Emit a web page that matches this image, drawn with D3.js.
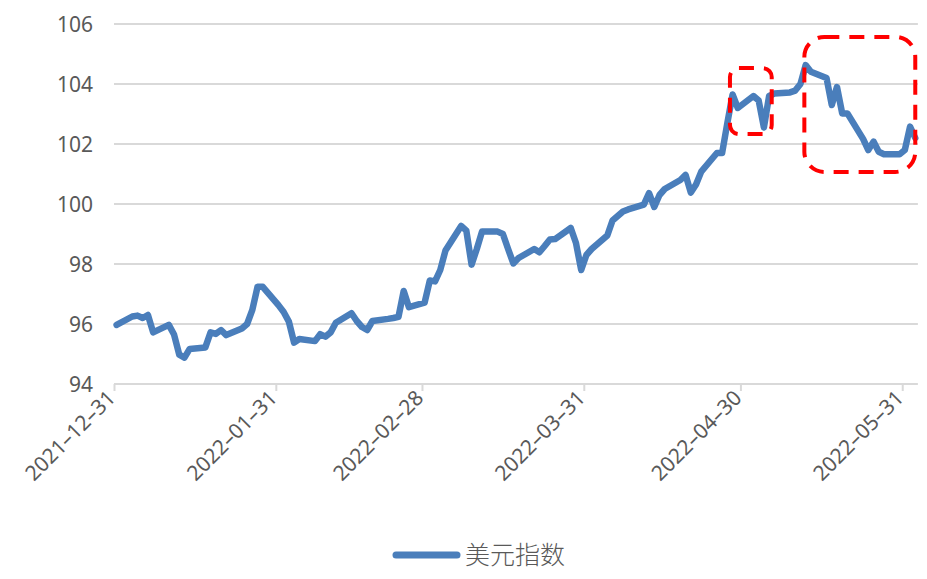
<!DOCTYPE html>
<html>
<head>
<meta charset="utf-8">
<script src="https://cdn.jsdelivr.net/npm/d3@7"></script>
<style>
  body { margin: 0; background: #fff; }
  text { font-family: "Noto Sans", "Noto Sans CJK SC", sans-serif; fill: #595959; }
</style>
</head>
<body>
<div class="svg-container"></div>
<script>
// 美元指数, daily closes
var dates = [
  "2021-12-31",
  "2022-01-03","2022-01-04","2022-01-05","2022-01-06","2022-01-07",
  "2022-01-10","2022-01-11","2022-01-12","2022-01-13","2022-01-14",
  "2022-01-17","2022-01-18","2022-01-19","2022-01-20","2022-01-21",
  "2022-01-24","2022-01-25","2022-01-26","2022-01-27","2022-01-28",
  "2022-01-31","2022-02-01","2022-02-02","2022-02-03","2022-02-04",
  "2022-02-07","2022-02-08","2022-02-09","2022-02-10","2022-02-11",
  "2022-02-14","2022-02-15","2022-02-16","2022-02-17","2022-02-18",
  "2022-02-21","2022-02-22","2022-02-23","2022-02-24","2022-02-25",
  "2022-02-28","2022-03-01","2022-03-02","2022-03-03","2022-03-04",
  "2022-03-07","2022-03-08","2022-03-09","2022-03-10","2022-03-11",
  "2022-03-14","2022-03-15","2022-03-16","2022-03-17","2022-03-18",
  "2022-03-21","2022-03-22","2022-03-23","2022-03-24","2022-03-25",
  "2022-03-28","2022-03-29","2022-03-30","2022-03-31","2022-04-01",
  "2022-04-04","2022-04-05","2022-04-06","2022-04-07","2022-04-08",
  "2022-04-11","2022-04-12","2022-04-13","2022-04-14","2022-04-15",
  "2022-04-18","2022-04-19","2022-04-20","2022-04-21","2022-04-22",
  "2022-04-25","2022-04-26","2022-04-27","2022-04-28","2022-04-29",
  "2022-05-02","2022-05-03","2022-05-04","2022-05-05","2022-05-06",
  "2022-05-09","2022-05-10","2022-05-11","2022-05-12","2022-05-13",
  "2022-05-16","2022-05-17","2022-05-18","2022-05-19","2022-05-20",
  "2022-05-23","2022-05-24","2022-05-25","2022-05-26","2022-05-27",
  "2022-05-30","2022-05-31","2022-06-01","2022-06-02"
];
var values = [
  95.97,
  96.25, 96.28, 96.2, 96.3, 95.72,
  95.97, 95.65, 94.98, 94.88, 95.17,
  95.22, 95.72, 95.67, 95.8, 95.63,
  95.85, 96.0, 96.47, 97.24, 97.24,
  96.63, 96.4, 96.08, 95.38, 95.5,
  95.43, 95.66, 95.58, 95.72, 96.04,
  96.36, 96.1, 95.9, 95.8, 96.1,
  96.17, 96.2, 96.24, 97.1, 96.56,
  96.71, 97.45, 97.42, 97.8, 98.45,
  99.27, 99.11, 97.98, 98.5, 99.08,
  99.08, 99.0, 98.5, 98.02, 98.2,
  98.5, 98.39, 98.6, 98.82, 98.83,
  99.2, 98.7, 97.8, 98.3, 98.5,
  98.95, 99.45, 99.6, 99.75, 99.82,
  99.98, 100.36, 99.9, 100.3, 100.5,
  100.8, 100.97, 100.38, 100.65, 101.08,
  101.7, 101.7, 102.7, 103.65, 103.2,
  103.6, 103.45, 102.55, 103.6, 103.68,
  103.72, 103.78, 104.0, 104.63, 104.41,
  104.2, 103.3, 103.9, 103.02, 103.02,
  102.17, 101.8, 102.08, 101.74, 101.66,
  101.66, 101.8, 102.58, 102.2
];
var yTicks = [94, 96, 98, 100, 102, 104, 106];
var xTicks = ["2021-12-31","2022-01-31","2022-02-28","2022-03-31","2022-04-30","2022-05-31"];
var seriesName = "美元指数";
// highlighted areas: [from date, to date, low value, high value]
var boxes = [
  ["2022-04-28T00:00", "2022-05-06T00:00", 102.33, 104.53],
  ["2022-05-12T06:00", "2022-06-02T12:00", 101.07, 105.57]
];

var parse = d3.timeParse("%Y-%m-%d");
var parseT = d3.timeParse("%Y-%m-%dT%H:%M");
// points sit in the middle of their day, ticks on day boundaries
var data = dates.map(function(d, i) {
  return { date: d3.timeHour.offset(parse(d), 12), value: values[i] };
});

var width = 927, height = 579;
var plotLeft = 114, plotTop = 24, plotBottom = 384;

var svg = d3.select(".svg-container").append("svg")
  .attr("width", width)
  .attr("height", height);

var x = d3.scaleTime()
  .domain([parse("2021-12-31"), parse("2022-06-03")])
  .range([plotLeft, plotLeft + 154 * 5.22]);

var y = d3.scaleLinear()
  .domain([94, 106])
  .range([plotBottom, plotTop]);

// gridlines
svg.append("g")
  .selectAll("line")
  .data(yTicks.slice(1))
  .enter().append("line")
  .attr("x1", plotLeft)
  .attr("x2", x.range()[1])
  .attr("y1", function(d) { return y(d); })
  .attr("y2", function(d) { return y(d); })
  .attr("stroke", "#d9d9d9")
  .attr("stroke-width", 2);

// Y labels
svg.append("g")
  .selectAll("text")
  .data(yTicks)
  .enter().append("text")
  .attr("x", 93)
  .attr("y", function(d) { return y(d); })
  .attr("dy", "0.36em")
  .attr("text-anchor", "end")
  .style("font-size", "21px")
  .text(function(d) { return d; });

// X axis
var xAxis = svg.append("g")
  .attr("transform", "translate(0," + plotBottom + ")")
  .call(d3.axisBottom(x)
    .tickValues(xTicks.map(parse))
    .tickSize(7)
    .tickFormat(d3.timeFormat("%Y-%m-%d")));
xAxis.select(".domain")
  .attr("d", "M" + plotLeft + ",0H" + x.range()[1])
  .attr("stroke", "#d9d9d9")
  .attr("stroke-width", 2);
xAxis.selectAll(".tick line").attr("stroke", "#d9d9d9").attr("stroke-width", 2);
xAxis.selectAll(".tick text")
  .attr("fill", "#595959")
  .style("font-size", "21px")
  .style("font-family", "\"Noto Sans\", sans-serif")
  .attr("text-anchor", "end")
  .attr("transform", "translate(-3,10) rotate(-45)")
  .attr("x", 0)
  .attr("y", 0)
  .attr("dy", "0.35em")
  .text(function(d) { return d3.timeFormat("%Y-%m-%d")(d).replace(/-/g, "\u2013"); });

// line
var line = d3.line()
  .x(function(d) { return x(d.date); })
  .y(function(d) { return y(d.value); });

svg.append("path")
  .datum(data)
  .attr("d", line)
  .attr("fill", "none")
  .attr("stroke", "#4a7ebb")
  .attr("stroke-width", 6.5)
  .attr("stroke-linejoin", "round")
  .attr("stroke-linecap", "round");

// red dashed boxes
svg.append("g")
  .selectAll("rect")
  .data(boxes)
  .enter().append("rect")
  .attr("x", function(d) { return x(parseT(d[0])); })
  .attr("y", function(d) { return y(d[3]); })
  .attr("width", function(d) { return x(parseT(d[1])) - x(parseT(d[0])); })
  .attr("height", function(d) { return y(d[2]) - y(d[3]); })
  .attr("rx", function(d, i) { return i == 0 ? 9 : 20; })
  .attr("fill", "none")
  .attr("stroke", "#ff0000")
  .attr("stroke-width", 4)
  .attr("stroke-dasharray", "15 10");

// legend
var legend = svg.append("g").attr("transform", "translate(396,555)");
legend.append("line")
  .attr("x1", 0).attr("x2", 61)
  .attr("stroke", "#4a7ebb")
  .attr("stroke-width", 7)
  .attr("stroke-linecap", "round");
legend.append("text")
  .attr("x", 69)
  .attr("dy", "0.36em")
  .style("font-size", "25px")
  .style("font-family", "\"Noto Sans CJK SC\", sans-serif")
  .style("font-weight", 300)
  .text(seriesName);
</script>
</body>
</html>
